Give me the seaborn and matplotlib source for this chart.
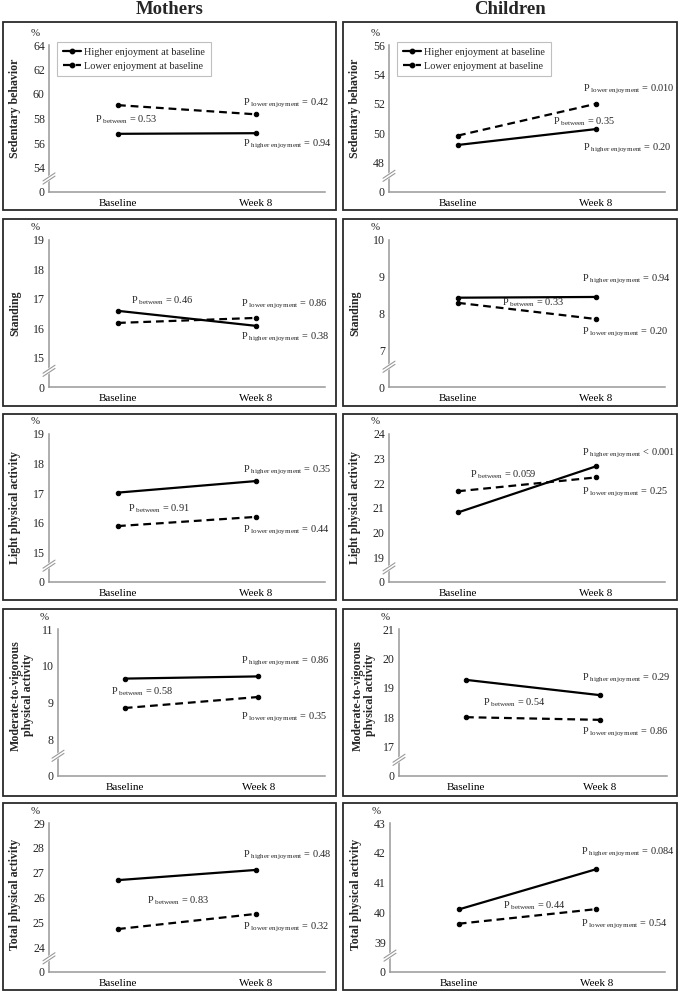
import numpy as np
import pandas as pd
import matplotlib
matplotlib.use("Agg")
import matplotlib.pyplot as plt
from matplotlib.lines import Line2D
from matplotlib.patches import Rectangle
import seaborn as sns

# ---------------- data ----------------
timepoints = ["Baseline", "Week 8"]
groups = ["Higher enjoyment at baseline", "Lower enjoyment at baseline"]
columns = ["Mothers", "Children"]
outcomes = ["Sedentary behavior", "Standing", "Light physical activity",
            "Moderate-to-vigorous\nphysical activity", "Total physical activity"]

mothers_higher = [[56.75, 56.80], [16.59, 16.08], [17.02, 17.41], [9.65, 9.71], [26.70, 27.11]]
mothers_lower = [[59.09, 58.34], [16.18, 16.35], [15.89, 16.20], [8.85, 9.15], [24.73, 25.34]]
children_higher = [[49.20, 50.28], [8.43, 8.45], [20.82, 22.69], [19.27, 18.75], [40.10, 41.45]]
children_lower = [[49.84, 52.00], [8.29, 7.85], [21.68, 22.24], [18.00, 17.91], [39.62, 40.11]]

mothers_ticks = [[54, 56, 58, 60, 62, 64], [15, 16, 17, 18, 19], [15, 16, 17, 18, 19],
                 [8, 9, 10, 11], [24, 25, 26, 27, 28, 29]]
children_ticks = [[48, 50, 52, 54, 56], [7, 8, 9, 10], [19, 20, 21, 22, 23, 24],
                  [17, 18, 19, 20, 21], [39, 40, 41, 42, 43]]

mothers_p_between = ["= 0.53", "= 0.46", "= 0.91", "= 0.58", "= 0.83"]
mothers_p_higher = ["= 0.94", "= 0.38", "= 0.35", "= 0.86", "= 0.48"]
mothers_p_lower = ["= 0.42", "= 0.86", "= 0.44", "= 0.35", "= 0.32"]
children_p_between = ["= 0.35", "= 0.33", "= 0.059", "= 0.54", "= 0.44"]
children_p_higher = ["= 0.20", "= 0.94", "< 0.001", "= 0.29", "= 0.084"]
children_p_lower = ["= 0.010", "= 0.20", "= 0.25", "= 0.86", "= 0.54"]

# ---------------- layout (positions of annotations in data coords) ----------------
mothers_pos_between = [(-0.17, 57.9), (0.094, 16.93), (0.07, 16.48), (-0.103, 9.29), (0.21, 25.86)]
mothers_pos_higher = [(0.906, 55.9), (0.89, 15.69), (0.906, 17.78), (0.87, 10.11), (0.906, 27.69)]
mothers_pos_lower = [(0.906, 59.2), (0.89, 16.82), (0.906, 15.74), (0.87, 8.59), (0.906, 24.8)]
children_pos_between = [(0.69, 50.78), (0.32, 8.28), (0.087, 22.34), (0.127, 18.48), (0.32, 40.23)]
children_pos_higher = [(0.906, 48.99), (0.90, 8.94), (0.90, 23.2), (0.866, 19.33), (0.89, 42.0)]
children_pos_lower = [(0.906, 53.0), (0.90, 7.49), (0.90, 21.62), (0.866, 17.49), (0.89, 39.58)]

W, H = 679, 992
row_axes_y = [(45, 192), (240, 387), (434, 582), (629, 776), (823, 972)]
row_box_y = [(22, 210), (219, 406), (414, 600), (609, 796), (803, 990)]
col_box_x = [(3, 336), (343, 677)]
col_axes_x = [[(49, 325), (49, 325), (49, 325), (58, 325), (49, 325)],
              [(389, 665), (389, 665), (389, 665), (399, 667), (390, 665)]]
label_x = [[-0.101, -0.101, -0.101, -0.09, -0.101],
           [-0.101, -0.101, -0.101, -0.086, -0.101]]
label_y = [0.57, 0.5, 0.5, 0.55, 0.52]

sns.set_style("white")
plt.rcParams["font.family"] = ["Liberation Serif", "DejaVu Serif"]
plt.rcParams["mathtext.fontset"] = "custom"
plt.rcParams["mathtext.rm"] = "Liberation Serif"
plt.rcParams["mathtext.it"] = "Liberation Serif:italic"
plt.rcParams["mathtext.bf"] = "Liberation Serif:bold"

AXC = "#999999"
fig = plt.figure(figsize=(W / 100, H / 100), dpi=100)


def fx(px):
    return px / W


def fy(py):
    return 1 - py / H


def ptext(sub, val):
    return r"$\mathrm{P}_{\mathrm{\ " + sub.replace(" ", r"\ ") + "}}$ " + val


col_data = [
    (mothers_higher, mothers_lower, mothers_ticks, mothers_p_between, mothers_p_higher, mothers_p_lower,
     mothers_pos_between, mothers_pos_higher, mothers_pos_lower),
    (children_higher, children_lower, children_ticks, children_p_between, children_p_higher, children_p_lower,
     children_pos_between, children_pos_higher, children_pos_lower),
]

for c, (hi, lo, tks, pb, ph, pl, posb, posh, posl) in enumerate(col_data):
    bx0, bx1 = col_box_x[c]
    fig.text(fx((bx0 + bx1) / 2), fy(9), columns[c], ha="center", va="center",
             fontsize=13.5, fontweight="bold")
    for r in range(5):
        by0, by1 = row_box_y[r]
        fig.add_artist(Rectangle((fx(bx0), fy(by1)), fx(bx1) - fx(bx0), (by1 - by0) / H,
                                 transform=fig.transFigure, fill=False, ec="#2a2a2a", lw=1.3))
        l, rr = col_axes_x[c][r]
        top, zero = row_axes_y[r]
        ax = fig.add_axes([fx(l), fy(zero), fx(rr) - fx(l), (zero - top) / H])
        ax.patch.set_alpha(0)

        df = pd.DataFrame({
            "time": timepoints * 2,
            "value": list(hi[r]) + list(lo[r]),
            "group": [groups[0]] * 2 + [groups[1]] * 2,
        })
        sns.lineplot(data=df, x="time", y="value", hue="group", style="group",
                     palette=["black", "black"], dashes={groups[0]: "", groups[1]: (3.5, 2.2)},
                     markers={groups[0]: "o", groups[1]: "o"}, markersize=3.2,
                     markeredgecolor="black", linewidth=1.6, legend=False, sort=False,
                     estimator=None, ax=ax)

        ticks = tks[r]
        step = ticks[1] - ticks[0]
        ymin = ticks[0] - step
        ax.set_ylim(ymin, ticks[-1])
        ax.set_yticks([ymin] + ticks)
        ax.set_yticklabels(["0"] + [str(t) for t in ticks])
        ax.set_xlim(-0.5, 1.5)
        ax.set_xticks([0, 1])
        ax.set_xticklabels(timepoints)
        ax.set_xticks([-0.5, 0.5, 1.5], minor=True)
        ax.tick_params(axis="x", which="major", length=0, pad=5, labelsize=8, colors="black")
        ax.tick_params(axis="x", which="minor", length=3.5, direction="out", color=AXC, width=0.9)
        ax.tick_params(axis="y", which="major", length=4, direction="inout", color=AXC, width=0.9,
                       labelsize=8.6, pad=1)
        for s in ["top", "right"]:
            ax.spines[s].set_visible(False)
        for s in ["left", "bottom"]:
            ax.spines[s].set_color(AXC)
            ax.spines[s].set_linewidth(1.1)
        ax.set_xlabel("")
        ax.set_ylabel(outcomes[r], fontsize=8.6, fontweight="bold", linespacing=1.05)
        ax.yaxis.set_label_coords(label_x[c][r], label_y[r], transform=ax.transAxes)

        ax.annotate("%", xy=(0, 1), xycoords="axes fraction", xytext=(-14, 12),
                    textcoords="offset pixels", ha="center", va="center", fontsize=7.8)

        # axis break marks
        nsteps = len(ticks)
        hpx = zero - top
        wpx = rr - l
        ybreak = 0.55 / nsteps
        dxa, dya = 6 / wpx, 4 / hpx
        ax.plot([-dxa, dxa], [ybreak - dya, ybreak + dya], transform=ax.transAxes,
                color="white", lw=3.5, clip_on=False, solid_capstyle="butt", zorder=5)
        for off in (-1.6, 1.6):
            ax.plot([-dxa, dxa], [ybreak - dya + off / hpx, ybreak + dya + off / hpx],
                    transform=ax.transAxes, color=AXC, lw=0.8, clip_on=False, zorder=6)

        fs = 7.4
        ax.text(posb[r][0], posb[r][1], ptext("between", pb[r]), ha="left", va="center", fontsize=fs)
        ax.text(posh[r][0], posh[r][1], ptext("higher enjoyment", ph[r]), ha="left", va="center",
                fontsize=fs)
        ax.text(posl[r][0], posl[r][1], ptext("lower enjoyment", pl[r]), ha="left", va="center",
                fontsize=fs)

        if r == 0:
            handles = [Line2D([], [], color="black", lw=1.6, marker="o", ms=3.2),
                       Line2D([], [], color="black", lw=1.6, marker="o", ms=3.2, dashes=(3.5, 2.2))]
            leg = ax.legend(handles, groups, loc="upper left", bbox_to_anchor=(0.029, 1.02),
                            fontsize=7.4, frameon=True, fancybox=False, borderpad=0.55,
                            handlelength=1.8, handletextpad=0.3, labelspacing=0.45,
                            borderaxespad=0, numpoints=1)
            leg.get_frame().set_edgecolor("#b0b0b0")
            leg.get_frame().set_linewidth(0.8)

fig.savefig("out.png", dpi=100)
